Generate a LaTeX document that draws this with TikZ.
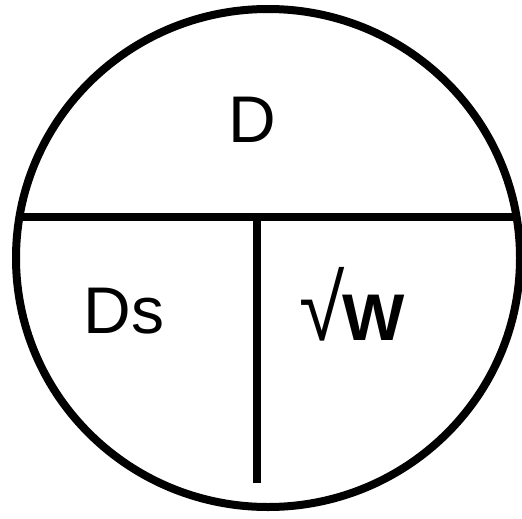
\documentclass[tikz,border=0pt]{standalone}
\usepackage{fontspec}
\setmainfont{Liberation Sans}
\begin{document}
\begin{tikzpicture}[x=1pt,y=-1pt,
  rim/.style={line width=8pt,black},
  label/.style={font=\fontsize{66}{70}\selectfont,inner sep=0pt,anchor=base}]
\useasboundingbox (0,0) rectangle (522,519);
\coordinate (c) at (268,258);
\begin{scope}
  \clip (c) ellipse [x radius=252, y radius=249];
  \coordinate (hl) at (0,217);
  \coordinate (hr) at (522,217);
  \draw[rim] (hl) -- (hr);
\end{scope}
\coordinate (vt) at (257,217);
\coordinate (vb) at (257,483);
\draw[rim] (vt) -- (vb);
\draw[rim] (c) ellipse [x radius=252, y radius=249];
\node[label] (d) at (252,142) {D};
\node[label] (ds) at (124,333) {Ds};
\node[label] (w) at (352,340) {\scalebox{1.25}[1.4]{√}\kern-2pt\textbf{W}};
\end{tikzpicture}
\end{document}
